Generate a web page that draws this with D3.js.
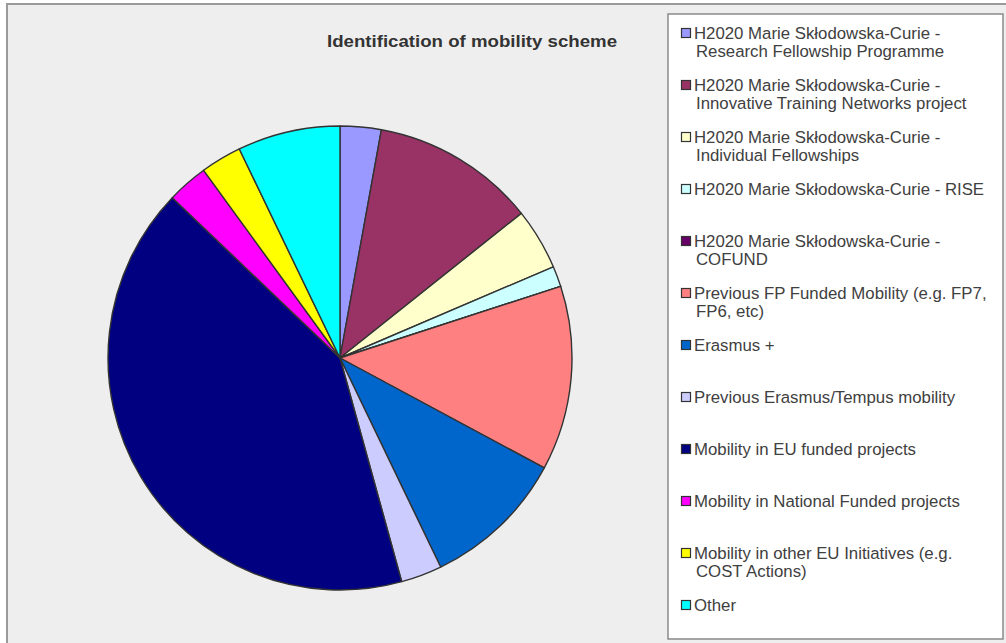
<!DOCTYPE html>
<html>
<head>
<meta charset="utf-8">
<script src="https://cdn.jsdelivr.net/npm/d3@7"></script>
<style>
  html, body { margin: 0; padding: 0; background: #ffffff; }
  svg { display: block; }
</style>
</head>
<body>
<svg id="chart" width="1006" height="643"></svg>
<script>
// Mobility scheme categories (legend lines split where the label wraps)
const categories = [
  ["H2020 Marie Skłodowska-Curie -", "Research Fellowship Programme"],
  ["H2020 Marie Skłodowska-Curie -", "Innovative Training Networks project"],
  ["H2020 Marie Skłodowska-Curie -", "Individual Fellowships"],
  ["H2020 Marie Skłodowska-Curie - RISE"],
  ["H2020 Marie Skłodowska-Curie -", "COFUND"],
  ["Previous FP Funded Mobility (e.g. FP7,", "FP6, etc)"],
  ["Erasmus +"],
  ["Previous Erasmus/Tempus mobility"],
  ["Mobility in EU funded projects"],
  ["Mobility in National Funded projects"],
  ["Mobility in other EU Initiatives (e.g.", "COST Actions)"],
  ["Other"]
];

// Number of responses per scheme
const counts = [2, 8, 3, 1, 0, 9, 7, 2, 29, 2, 2, 5];

const sliceColors = [
  "#9999FF", "#993366", "#FFFFCC", "#CCFFFF", "#660066", "#FF8080",
  "#0066CC", "#CCCCFF", "#000080", "#FF00FF", "#FFFF00", "#00FFFF"
];

const title = "Identification of mobility scheme";

const svg = d3.select("#chart");

// chart area background and frame
svg.append("rect")
  .attr("x", 0).attr("y", 0).attr("width", 1006).attr("height", 643)
  .attr("fill", "#ffffff");
svg.append("rect")
  .attr("x", 7).attr("y", 4).attr("width", 1000).attr("height", 642)
  .attr("fill", "#EEEEEE")
  .attr("stroke", "#9a9a9a").attr("stroke-width", 2);

// title
svg.append("text")
  .attr("x", 327).attr("y", 47)
  .attr("textLength", 290).attr("lengthAdjust", "spacingAndGlyphs")
  .attr("font-family", "Liberation Sans, Arial, sans-serif")
  .attr("font-size", 17).attr("font-weight", "bold")
  .attr("fill", "#333333")
  .text(title);

// pie
const cx = 340, cy = 358, radius = 232;
const pie = d3.pie().sort(null).value(d => d);
const arc = d3.arc().innerRadius(0).outerRadius(radius);
const color = d3.scaleOrdinal().domain(d3.range(categories.length)).range(sliceColors);

svg.append("g")
  .attr("transform", `translate(${cx},${cy})`)
  .selectAll("path")
  .data(pie(counts))
  .join("path")
  .attr("d", arc)
  .attr("fill", (d, i) => color(i))
  .attr("stroke", "#333333")
  .attr("stroke-width", 1.4)
  .attr("stroke-linejoin", "round");

// legend
const lg = svg.append("g");
lg.append("rect")
  .attr("x", 668).attr("y", 14).attr("width", 335).attr("height", 625)
  .attr("fill", "#ffffff")
  .attr("stroke", "#8a8a8a").attr("stroke-width", 1.5);

const rowY = d3.scaleLinear().domain([0, categories.length - 1]).range([33, 605]);

const items = lg.selectAll("g.item")
  .data(categories)
  .join("g")
  .attr("class", "item")
  .attr("transform", (d, i) => `translate(0,${rowY(i)})`);

items.append("rect")
  .attr("x", 681.5).attr("y", -4.5).attr("width", 9).attr("height", 9)
  .attr("fill", (d, i) => color(i))
  .attr("stroke", "#333333").attr("stroke-width", 1.2);

items.append("text")
  .attr("font-family", "Liberation Sans, Arial, sans-serif")
  .attr("font-size", 16.8)
  .attr("fill", "#404040")
  .selectAll("tspan")
  .data(d => d)
  .join("tspan")
  .attr("x", (d, j) => j === 0 ? 694 : 696)
  .attr("y", (d, j) => 6 + j * 17.5)
  .text(d => d);
</script>
</body>
</html>
